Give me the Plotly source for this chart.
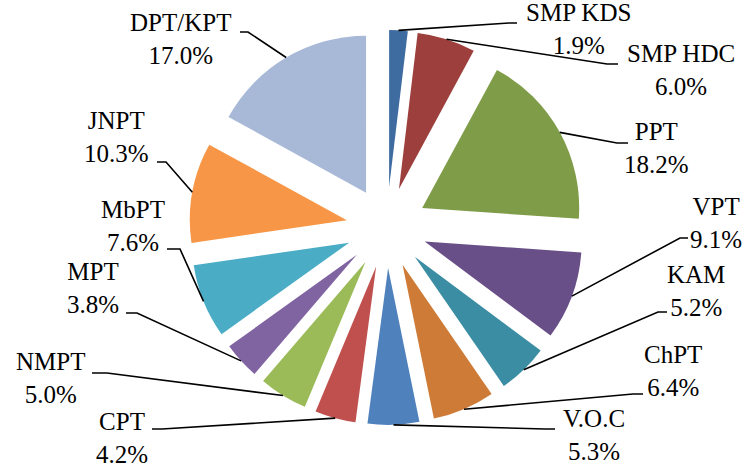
import numpy as np
import plotly.graph_objects as go

# ---- data ----
ports = ["SMP KDS", "SMP HDC", "PPT", "VPT", "KAM", "ChPT", "V.O.C",
         "CPT", "NMPT", "MPT", "MbPT", "JNPT", "DPT/KPT"]
shares = [1.9, 6.0, 18.2, 9.1, 5.2, 6.4, 5.3, 4.2, 5.0, 3.8, 7.6, 10.3, 17.0]

# ---- styles ----
colors = ["#3E6BA0", "#9D403D", "#7F9C48", "#694F87", "#3B8DA3", "#CE7B37",
          "#4F81BD", "#C0504D", "#9BBB59", "#8064A2", "#4BACC6", "#F79646",
          "#A8B9D7"]

W, H = 749, 473
CX, CY = 386.7, 227.5    # pie centre (px)
RADIUS = 157
PULL = 0.258
BOX = 2 * RADIUS * (1 + PULL)   # square pie domain (px)
FONT = "'Liberation Serif', 'Times New Roman', Times, serif"
FONT_SIZE = 25

# label layout: text centre x, text centre y, leader end x, leader end y, elbow x  (px)
label_layout = [
    (578, 29, 517, 23, 509),
    (681, 70, 618, 64, 607),
    (656, 148, 628, 143, 617),
    (716, 223, 688, 238, 680),
    (696, 291, 667, 312, 658),
    (673, 371, 643, 394, 633),
    (594, 435, 555, 429, 545),
    (122, 438, 152, 429, 162),
    (50, 378, 92, 373, 107),
    (93, 288, 126, 313, 137),
    (133, 226, 167, 249, 180),
    (116, 137, 157, 162, 166),
    (180, 39, 240, 32, 248),
]

def px(x):
    return x / W

def py(y):
    return 1 - y / H

fig = go.Figure(go.Pie(
    labels=ports,
    values=shares,
    sort=False,
    direction="clockwise",
    rotation=0,
    pull=[PULL] * len(shares),
    marker=dict(colors=colors, line=dict(width=0)),
    textinfo="none",
    hoverinfo="label+percent",
    showlegend=False,
    domain=dict(x=[px(CX - BOX / 2), px(CX + BOX / 2)],
                y=[py(CY + BOX / 2), py(CY - BOX / 2)]),
))

# slice arc midpoints derived from the data
vals = np.array(shares, dtype=float)
total = vals.sum()
cum_before = np.concatenate([[0], np.cumsum(vals)[:-1]])
theta = 2 * np.pi * (cum_before + vals / 2) / total
r = BOX / (2 + 2 * PULL)
dist = r * (1 + PULL)
arc_x = CX + dist * np.sin(theta)
arc_y = CY - dist * np.cos(theta)

annotations = []
shapes = []
for i, name in enumerate(ports):
    tx, ty, ex, ey, elx = label_layout[i]
    annotations.append(dict(
        x=px(tx), y=py(ty), xref="paper", yref="paper",
        text=f"{name}<br>{shares[i]:.1f}%", showarrow=False,
        xanchor="center", yanchor="middle", borderpad=0,
        font=dict(family=FONT, size=FONT_SIZE, color="black"),
    ))
    path = (f"M {px(arc_x[i]):.5f} {py(arc_y[i]):.5f} "
            f"L {px(elx):.5f} {py(ey):.5f} L {px(ex):.5f} {py(ey):.5f}")
    shapes.append(dict(type="path", path=path, xref="paper", yref="paper",
                       line=dict(color="black", width=1.6)))

fig.update_layout(
    width=W, height=H,
    margin=dict(l=0, r=0, t=0, b=0),
    paper_bgcolor="white",
    plot_bgcolor="white",
    font=dict(family=FONT),
    annotations=annotations,
    shapes=shapes,
)

fig.write_html("out.html",
               config={"displayModeBar": False},
               post_script="document.body.style.margin='0';document.body.style.overflow='hidden';")
